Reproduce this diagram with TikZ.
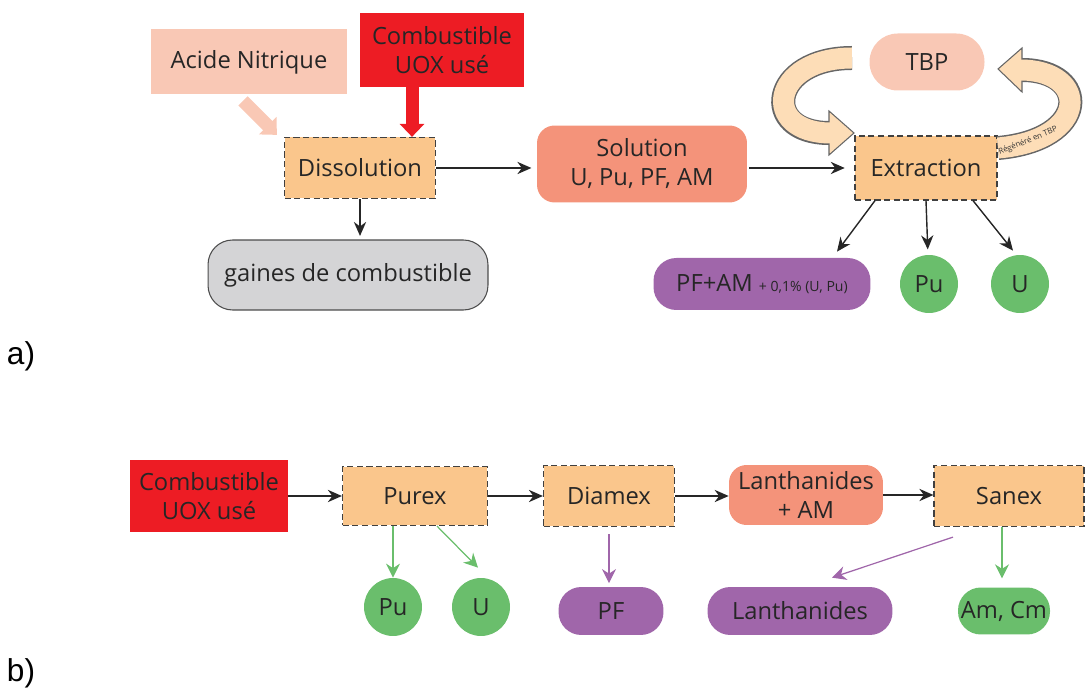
\documentclass[tikz,border=0pt]{standalone}
\usepackage{fontspec}
\setmainfont{Open Sans}
\newfontfamily\partfont{Liberation Sans}
\usepackage{tikz}
\usetikzlibrary{positioning,arrows.meta,calc}
\definecolor{procfill}{RGB}{250,198,140}
\definecolor{solfill}{RGB}{244,147,122}
\definecolor{fuelred}{RGB}{237,28,36}
\definecolor{acidfill}{RGB}{249,200,181}
\definecolor{wastepurple}{RGB}{160,102,170}
\definecolor{prodgreen}{RGB}{106,190,108}
\definecolor{cladgray}{RGB}{212,212,214}
\definecolor{loopfill}{RGB}{253,221,183}
\tikzset{
    box text/.style={font=\fontsize{13.5}{16.5}\selectfont, text=black!85, align=center, inner sep=0pt},
    process/.style={box text, rectangle, draw=black!75, line width=0.7pt, dash pattern=on 3.5pt off 2pt, fill=procfill},
    solution/.style={box text, rectangle, rounded corners=10pt, fill=solfill},
    feed/.style={box text, rectangle, fill=fuelred},
    acid/.style={box text, rectangle, fill=acidfill},
    reagent/.style={box text, rectangle, rounded corners=16pt, fill=acidfill},
    waste/.style={box text, rectangle, rounded corners=13pt, fill=wastepurple},
    product/.style={box text, circle, fill=prodgreen, minimum size=1.16cm},
    product box/.style={box text, rectangle, rounded corners=13pt, fill=prodgreen},
    cladding/.style={box text, rectangle, rounded corners=14pt, draw=black!70, line width=0.6pt, fill=cladgray},
    part label/.style={font=\partfont\fontsize{18}{20}\selectfont, inner sep=0pt},
    flow/.style={-{Stealth[length=8pt, width=7pt]}, line width=0.8pt, black!85},
    green flow/.style={-{Stealth[length=8pt, width=8pt]}, line width=0.7pt, prodgreen},
    purple flow/.style={-{Stealth[length=8pt, width=8pt]}, line width=0.7pt, wastepurple},
    block arrow/.style={line width=0.26cm, -{Triangle[length=0.26cm, width=0.48cm]}},
    ribbon edge/.style={line width=0.48cm, black!60},
    ribbon/.style={line width=0.42cm, loopfill, shorten >=-1pt}
}

\begin{document}
\begin{tikzpicture}[x=0.02cm, y=-0.02cm]
    \useasboundingbox (0,0) rectangle (1085,688);

    % a) Dissolution and extraction
    \node[acid, minimum width=3.92cm, minimum height=1.3cm] (acide) at (249,62) {Acide Nitrique};
    \node[feed, minimum width=3.3cm, minimum height=1.48cm] (uox) at (442,50) {Combustible\\UOX usé};
    \node[process, minimum width=3.02cm, minimum height=1.22cm] (dissol) at (360,168) {Dissolution};
    \node[solution, minimum width=4.2cm, minimum height=1.54cm] (sol) at (642,164) {Solution\\U, Pu, PF, AM};
    \node[process, minimum width=2.84cm, minimum height=1.28cm] (extr) at (926,168) {Extraction};
    \node[reagent, minimum width=2.3cm, minimum height=1.14cm] (tbp) at (927,62) {TBP};
    \node[cladding, minimum width=5.6cm, minimum height=1.4cm] (gaines) at (348,275) {gaines de combustible};
    \node[waste, minimum width=4.34cm, minimum height=1.04cm] (pfam) at (762,284) {PF+AM {\fontsize{8}{9}\selectfont+ 0,1\% (U, Pu)}};
    \node[product] (pu) at (929,284) {Pu};
    \node[product] (u) at (1020,284) {U};

    % Feeds into the dissolver
    \draw[block arrow, acidfill] ([xshift=-0.12cm, yshift=-0.12cm]acide.south) -- ([xshift=-0.14cm, yshift=0.04cm]dissol.north west);
    \draw[block arrow, fuelred] ([xshift=-0.6cm]uox.south) -- ([xshift=-0.6cm]uox.south |- dissol.north);

    % Main flow
    \draw[flow, shorten >=3pt] (dissol) -- (dissol -| sol.west);
    \draw[flow, shorten <=1pt, shorten >=5.5pt] (extr -| sol.east) -- (extr.west);
    \draw[flow, shorten >=2pt] (dissol.south) -- (dissol.south |- gaines.north);
    \draw[flow] ([xshift=-1.02cm]extr.south) -- ([xshift=1.5cm, yshift=0.12cm]pfam.north);
    \draw[flow, shorten >=3pt] (extr.south) -- (pu);
    \draw[flow] ([xshift=0.94cm]extr.south) -- ([xshift=-0.14cm, yshift=0.08cm]u.north);

    % TBP recycling loop
    \draw[ribbon edge] (852,58) .. controls (770,58) and (760,133) .. (829,133);
    \filldraw[fill=loopfill, draw=black!60, line width=0.6pt] (829,111) -- (854,133) -- (829,155) -- cycle;
    \draw[ribbon] (852,58) .. controls (770,58) and (760,133) .. (829,133);
    \draw[ribbon edge] (998,148) .. controls (1090,140) and (1090,70) .. (1022,70);
    \filldraw[fill=loopfill, draw=black!60, line width=0.6pt] (1022,48) -- (998,69) -- (1022,92) -- cycle;
    \draw[ribbon] (998,148) .. controls (1090,140) and (1090,70) .. (1022,70);
    \node[font=\fontsize{4.5}{5}\selectfont, text=black!80, rotate=22, inner sep=0pt] (regen) at (1028,141) {Régénéré en TBP};

    % b) Separation sequence
    \node[feed, minimum width=3.16cm, minimum height=1.44cm] (uoxb) at (209,496) {Combustible\\UOX usé};
    \node[process, minimum width=2.9cm, minimum height=1.18cm] (purex) at (415,496) {Purex};
    \node[process, minimum width=2.62cm, minimum height=1.22cm] (diamex) at (609,496) {Diamex};
    \node[solution, minimum width=3.08cm, minimum height=1.2cm] (lnam) at (806,495) {Lanthanides\\+ AM};
    \node[process, minimum width=3.0cm, minimum height=1.22cm] (sanex) at (1009,496) {Sanex};
    \node[product] (pub) at (393,607) {Pu};
    \node[product] (ub) at (481,607) {U};
    \node[waste, minimum width=2.1cm, minimum height=0.96cm] (pf) at (611,611) {PF};
    \node[waste, minimum width=3.7cm, minimum height=0.96cm] (lanth) at (800,611) {Lanthanides};
    \node[product box, minimum width=1.84cm, minimum height=0.94cm] (amcm) at (1004,611) {Am, Cm};

    \draw[flow] (uoxb) -- (purex);
    \draw[flow] (purex) -- (diamex);
    \draw[flow] (diamex) -- (diamex -| lnam.west);
    \draw[flow] (lnam) -- (lnam -| sanex.west);
    \draw[green flow] ([xshift=-0.44cm]purex.south) -- ([xshift=-0.44cm]purex.south |- pub.north);
    \draw[green flow] ([xshift=0.44cm]purex.south) -- ([xshift=-0.06cm, yshift=0.2cm]ub.north);
    \draw[purple flow, shorten <=4pt, shorten >=2pt] (diamex.south) -- (diamex.south |- pf.north);
    \draw[purple flow] ([xshift=-1.12cm, yshift=-0.2cm]sanex.south) -- ([xshift=0.64cm, yshift=0.18cm]lanth.north);
    \draw[green flow, shorten >=5pt] ([xshift=-0.14cm]sanex.south) -- ([xshift=-0.14cm]sanex.south |- amcm.north);

    % Part labels
    \node[part label] (parta) at (21,356) {a)};
    \node[part label] (partb) at (21,673) {b)};
\end{tikzpicture}
\end{document}
